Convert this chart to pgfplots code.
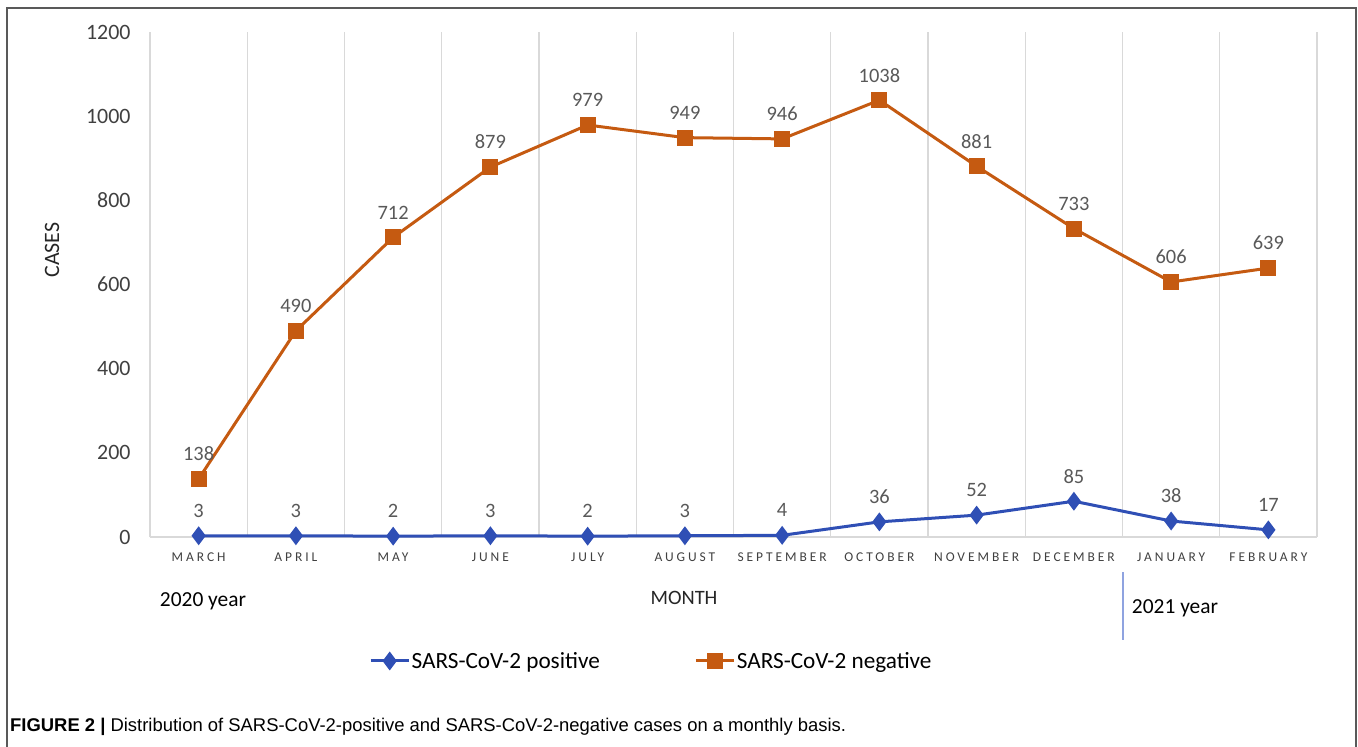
\documentclass[border=0pt]{standalone}
\usepackage{pgfplots}
\pgfplotsset{compat=1.18}
\usepackage{fontspec}
\setmainfont{Carlito}
\newfontfamily\capfont{Liberation Sans}
\newfontfamily\monthfont[LetterSpace=22]{Carlito}
\definecolor{negc}{HTML}{C55A11}
\definecolor{posc}{HTML}{2F4FB5}
\definecolor{gridc}{HTML}{D9D9D9}
\definecolor{txtc}{HTML}{404040}
\definecolor{lblc}{HTML}{595959}
\definecolor{yrline}{HTML}{8FA3E0}
\begin{document}
\begin{tikzpicture}[x=1bp,y=1bp]
\path[use as bounding box] (0,0) rectangle (1358,-746);
\draw[color=black!65, line width=1.3bp] (7,-760) -- (7,-8) -- (1356,-8) -- (1356,-760);
\begin{axis}[
  at={(150bp,-537bp)}, anchor=south west,
  scale only axis, width=1167bp, height=505bp,
  xmin=-0.5, xmax=11.5, ymin=0, ymax=1200,
  clip=false,
  xtick={0,...,11},
  xticklabels={MARCH,APRIL,MAY,JUNE,JULY,AUGUST,SEPTEMBER,OCTOBER,NOVEMBER,DECEMBER,JANUARY,FEBRUARY},
  minor xtick={-0.5,0.5,...,11.5},
  xminorgrids=true,
  minor grid style={gridc, line width=1.2bp},
  ytick={0,200,...,1200},
  major tick length=0pt, minor tick length=0pt,
  axis x line*=bottom, axis y line*=left,
  x axis line style={gridc, line width=1.2bp},
  y axis line style={draw=none},
  /pgf/number format/assume math mode=true,
  /pgf/number format/1000 sep={},
  x tick label style={font=\monthfont\fontsize{13.5}{15}\selectfont, text=txtc, yshift=-12bp},
  y tick label style={font=\fontsize{22}{24}\selectfont, text=txtc, xshift=-16bp},
  nodes near coords,
  every node near coord/.append style={font=\fontsize{20.5}{24}\selectfont, text=lblc, anchor=center, yshift=25bp},
  legend style={at={(0.1851,-0.2455)}, anchor=west, draw=none, fill=none,
    legend columns=2, font=\fontsize{23.3}{26}\selectfont,
    nodes={inner sep=1.5bp},
    /tikz/every even column/.append style={column sep=93bp}},
  legend image code/.code={\draw[mark repeat=2,mark phase=2,#1] plot coordinates {(0bp,0bp) (19bp,0bp) (38bp,0bp)};},
]
\addplot[posc, line width=3bp, mark=diamond*, mark size=7bp, mark options={solid, fill=posc}]
  coordinates {(0,3) (1,3) (2,2) (3,3) (4,2) (5,3) (6,4) (7,36) (8,52) (9,85) (10,38) (11,17)};
\addlegendentry{SARS-CoV-2 positive}
\addplot[negc, line width=3bp, mark=square*, mark size=6.5bp, mark options={solid, fill=negc}]
  coordinates {(0,138) (1,490) (2,712) (3,879) (4,979) (5,949) (6,946) (7,1038) (8,881) (9,733) (10,606) (11,639)};
\addlegendentry{SARS-CoV-2 negative}
\end{axis}
\node[rotate=90, font=\fontsize{22}{24}\selectfont, text=black!85] at (52,-250) {CASES};
\node[font=\fontsize{21.5}{24}\selectfont, text=black] at (203,-601) {2020 year};
\node[font=\fontsize{20.5}{24}\selectfont, text=black!85] at (684,-598) {MONTH};
\node[font=\fontsize{21.5}{24}\selectfont, text=black] at (1175,-608) {2021 year};
\draw[yrline, line width=1.2bp] (1123,-572) -- (1123,-640);
\node[anchor=base west, inner sep=0pt, font=\capfont\fontsize{18.5}{20}\selectfont] at (10,-731)
  {\textbf{FIGURE 2 |} Distribution of SARS-CoV-2-positive and SARS-CoV-2-negative cases on a monthly basis.};
\end{tikzpicture}
\end{document}
